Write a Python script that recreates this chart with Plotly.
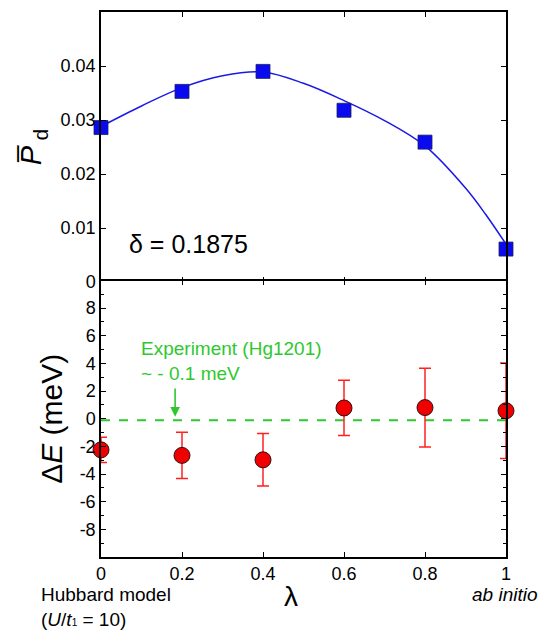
import plotly.graph_objects as go

# lambda values shared by both panels
lam = [0.0, 0.2, 0.4, 0.6, 0.8, 1.0]

# upper panel: d-wave pairing amplitude
pd_vals = [0.0286, 0.0353, 0.0390, 0.0318, 0.0259, 0.0061]
# smooth guide curve through the data
curve_x = [0.0, 0.1, 0.2, 0.3, 0.4, 0.5, 0.6, 0.7, 0.8, 0.9, 0.95, 1.0]
curve_y = [0.0288, 0.0326, 0.0360, 0.0382, 0.0389, 0.0368, 0.0336, 0.0299, 0.0252, 0.0174, 0.0125, 0.0070]

# lower panel: energy difference with error bars
de_vals = [-2.25, -2.65, -2.97, 0.78, 0.81, 0.58]
de_err = [0.92, 1.68, 1.90, 2.00, 2.85, 3.45]
exp_val = -0.1

x_ticks = [0, 0.2, 0.4, 0.6, 0.8, 1]
x_ticktext = ["0", "0.2", "0.4", "0.6", "0.8", "1"]
pd_ticks = [0, 0.01, 0.02, 0.03, 0.04]
pd_ticktext = ["0", "0.01", "0.02", "0.03", "0.04"]
de_ticks = [-8, -6, -4, -2, 0, 2, 4, 6, 8]
de_ticktext = ["-8", "-6", "-4", "-2", "0", "2", "4", "6", "8"]

font_family = "Liberation Sans, Arial, sans-serif"
green = "#2ec82e"

fig = go.Figure()

fig.add_trace(go.Scatter(x=curve_x, y=curve_y, mode="lines", xaxis="x", yaxis="y",
                         line=dict(color="#1a1ae6", width=1.5, shape="spline"),
                         showlegend=False, hoverinfo="skip"))
fig.add_trace(go.Scatter(x=lam, y=pd_vals, mode="markers", cliponaxis=False,
                         xaxis="x", yaxis="y",
                         marker=dict(symbol="square", size=14, color="#0a0af0",
                                     line=dict(color="#202060", width=0.8)),
                         showlegend=False))

fig.add_trace(go.Scatter(x=[0, 1], y=[exp_val, exp_val], mode="lines",
                         xaxis="x2", yaxis="y2",
                         line=dict(color=green, width=2, dash="dash"),
                         showlegend=False, hoverinfo="skip"))
fig.add_trace(go.Scatter(x=lam, y=de_vals, mode="markers", cliponaxis=False,
                         xaxis="x2", yaxis="y2",
                         error_y=dict(type="data", array=de_err, visible=True,
                                      color="#ff2020", thickness=1.5, width=6),
                         marker=dict(symbol="circle", size=16, color="#f00000",
                                     line=dict(color="#301010", width=1)),
                         showlegend=False))

axis_common = dict(showline=True, linecolor="black", linewidth=1.5, mirror="ticks",
                   ticks="inside", ticklen=5, tickwidth=1.2, tickcolor="black",
                   showgrid=False, zeroline=False,
                   tickfont=dict(family=font_family, size=18, color="black"))

# panels meet at one shared border line
split = 276 / 547
overlap = 1.5 / 547

fig.update_layout(
    xaxis=dict(range=[0, 1], tickvals=x_ticks, ticktext=x_ticktext,
               showticklabels=False, anchor="y", **axis_common),
    xaxis2=dict(range=[0, 1], tickvals=x_ticks, ticktext=x_ticktext,
                anchor="y2", matches="x", **axis_common),
    yaxis=dict(domain=[split, 1], range=[0, 0.05], tickvals=pd_ticks,
               ticktext=pd_ticktext, anchor="x",
               title=dict(text="<i>P\u0305</i><sub> d</sub>",
                          font=dict(family=font_family, size=29, color="black"),
                          standoff=10),
               **axis_common),
    yaxis2=dict(domain=[0, split + overlap], range=[-10, 10], tickvals=de_ticks,
                ticktext=de_ticktext, anchor="x2",
                minor=dict(ticks="inside", ticklen=3, dtick=1, tickcolor="black"),
                title=dict(text="\u0394<i>E</i> (meV)",
                           font=dict(family=font_family, size=30, color="black"),
                           standoff=8),
                **axis_common),
)

annotations = [
    dict(x=0.063, y=0.0070, xref="x", yref="y", text="\u03b4 = 0.1875",
         showarrow=False, xanchor="left", yanchor="middle",
         font=dict(family=font_family, size=25, color="black")),
    dict(x=0.093, y=4.2, xref="x2", yref="y2",
         text="Experiment (Hg1201)<br>~ - 0.1 meV", align="left",
         showarrow=False, xanchor="left", yanchor="middle",
         font=dict(family=font_family, size=19, color=green)),
    dict(x=0.183, y=0.15, ax=0.183, ay=2.3, xref="x2", yref="y2",
         axref="x2", ayref="y2", text="", showarrow=True, arrowhead=2,
         arrowsize=1.2, arrowwidth=1.6, arrowcolor=green),
    dict(x=0.47, y=-0.04, xref="paper", yref="paper", text="\u03bb",
         showarrow=False, xanchor="center", yanchor="top",
         font=dict(family=font_family, size=28, color="black")),
    dict(x=-0.153, y=-0.045, xref="paper", yref="paper",
         text="Hubbard model<br>(<i>U</i>/<i>t</i><span style='font-size:10px'>1</span> = 10)",
         align="left", showarrow=False, xanchor="left", yanchor="top",
         font=dict(family=font_family, size=19, color="black")),
    dict(x=1.085, y=-0.045, xref="paper", yref="paper", text="<i>ab initio</i>",
         showarrow=False, xanchor="right", yanchor="top",
         font=dict(family=font_family, size=19, color="black")),
]

fig.update_layout(annotations=annotations, width=549, height=633,
                  margin=dict(l=101, r=43, t=10, b=76),
                  plot_bgcolor="white", paper_bgcolor="white",
                  font=dict(family=font_family, color="black"))

fig.write_html("out.html")
